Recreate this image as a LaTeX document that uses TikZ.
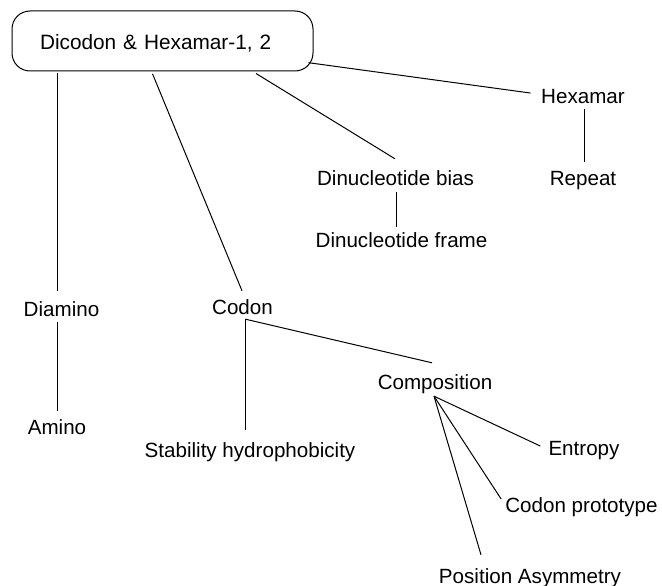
\documentclass[tikz,border=0pt]{standalone}
\usepackage{fontspec}
\setmainfont{Liberation Sans}
\usetikzlibrary{calc}
\begin{document}
\begin{tikzpicture}[x=1pt,y=-1pt,
  every node/.style={font=\fontsize{20.6}{24}\selectfont},
  leaf/.style={anchor=base,inner sep=0pt,text height=15pt,text depth=4.3pt},
  rootbox/.style={draw,line width=1pt,rounded corners=18pt,inner sep=0pt,
    minimum width=301pt,minimum height=60pt,text width=245pt,align=left,
    text height=20pt,text depth=2pt,font=\fontsize{20.8}{24}\selectfont},
  link/.style={line width=1pt}]
\useasboundingbox (0,0) rectangle (662,586);

% nodes
\node[rootbox] (root) at (162.5,41) {Dicodon \& Hexamar-1, 2};
\node[leaf] (hex)    at (583,103)   {Hexamar};
\node[leaf] (rep)    at (583,185)   {Repeat};
\node[leaf] (dbias)  at (395.5,185) {Dinucleotide bias};
\node[leaf] (dframe) at (401.5,247) {Dinucleotide frame};
\node[leaf] (diam)   at (61.5,316)  {Diamino};
\node[leaf] (amino)  at (57,434)    {Amino};
\node[leaf] (codon)  at (242.5,314) {Codon};
\node[leaf] (comp)   at (435,389)   {Composition};
\node[leaf] (stab)   at (250,457)   {Stability hydrophobicity};
\node[leaf] (ent)    at (584,455)   {Entropy};
\node[leaf] (cproto) at (581.5,512) {Codon prototype};
\node[leaf] (pasym)  at (530,583)   {Position Asymmetry};

% connectors
\draw[link] ($(root.south)+(-105.5,2)$) -- ($(diam.north)+(-4.5,-10)$);
\draw[link] ($(diam.south)+(-4.5,1.7)$) -- ($(amino.north)+(0,-8)$);
\draw[link] ($(root.south)+(-10,2.3)$) -- ($(codon.north)+(-0.5,-8)$);
\draw[link] ($(root.south)+(93.5,2)$) -- ($(dbias.north)+(-0.5,-11)$);
\draw[link] ($(root.east)+(-5,21.7)$) -- ($(hex.west)+(-10.5,-4.6)$);
\draw[link] ($(hex.south)+(1,1.7)$) -- ($(rep.north)+(1,-8)$);
\draw[link] ($(dbias.south)+(0.5,2.7)$) -- ($(dframe.north)+(-5.5,-5)$);
\draw[link] ($(codon.south)+(3,0.7)$) -- ($(stab.north)+(-4.5,-12)$);
\draw[link] ($(codon.south)+(3,0.7)$) -- ($(comp.north)+(-3,-11)$);
\draw[link] ($(comp.south)+(-1,2.7)$) -- ($(ent.west)+(-8,-3.6)$);
\draw[link] ($(comp.south)+(-1,2.7)$) -- ($(cproto.west)+(-4,-7.6)$);
\draw[link] ($(comp.south)+(-1,2.7)$) -- ($(pasym.north)+(-49,-13)$);
\end{tikzpicture}
\end{document}
